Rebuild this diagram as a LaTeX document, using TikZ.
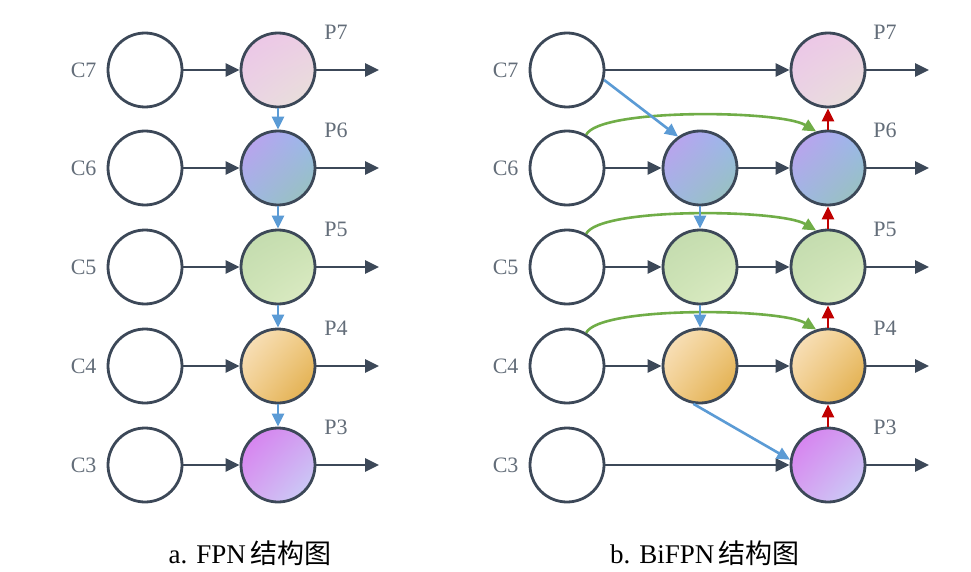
\documentclass[tikz,border=0pt]{standalone}
\usepackage{fontspec}
\setmainfont{Liberation Serif}
\newfontfamily\cjk{Noto Sans CJK SC}
\usetikzlibrary{arrows.meta,shadings}
\definecolor{dk}{HTML}{3C4858}
\definecolor{bl}{HTML}{5B9BD5}
\definecolor{gr}{HTML}{70AD47}
\definecolor{rd}{HTML}{C00000}
\begin{document}
\begin{tikzpicture}[x=1pt,y=-1pt,
  cc/.style={circle,draw=dk,line width=2.8pt,minimum size=74pt,inner sep=0pt},
  lab/.style={text=dk!80,font=\fontsize{22}{22}\selectfont},
  arr/.style={draw=dk,line width=2.8pt,-{Triangle[length=14pt,width=13pt]}},
  barr/.style={draw=bl,line width=2.6pt,-{Triangle[length=13pt,width=12pt]}},
  garr/.style={draw=gr,line width=2.6pt,-{Triangle[length=13pt,width=12pt]}},
  rarr/.style={draw=rd,line width=2.6pt,-{Triangle[length=13pt,width=12pt]}},
  s7/.style={upper left={rgb,255:red,236;green,196;blue,232},upper right={rgb,255:red,236;green,206;blue,228},lower left={rgb,255:red,234;green,212;blue,228},lower right={rgb,255:red,232;green,226;blue,216}},
  s6/.style={upper left={rgb,255:red,196;green,156;blue,240},upper right={rgb,255:red,150;green,186;blue,238},lower left={rgb,255:red,156;green,184;blue,230},lower right={rgb,255:red,152;green,196;blue,180}},
  s5/.style={upper left={rgb,255:red,194;green,218;blue,174},upper right={rgb,255:red,200;green,224;blue,176},lower left={rgb,255:red,206;green,228;blue,182},lower right={rgb,255:red,222;green,236;blue,198}},
  s4/.style={upper left={rgb,255:red,250;green,230;blue,200},upper right={rgb,255:red,240;green,202;blue,130},lower left={rgb,255:red,242;green,206;blue,142},lower right={rgb,255:red,222;green,168;blue,64}},
  s3/.style={upper left={rgb,255:red,216;green,120;blue,240},upper right={rgb,255:red,208;green,164;blue,240},lower left={rgb,255:red,214;green,164;blue,240},lower right={rgb,255:red,200;green,214;blue,248}},
]
\useasboundingbox (0,0) rectangle (971,572);
\fill[white] (0,0) rectangle (971,572);
% ---------- left panel
\foreach \n/\y in {7/70,6/168,5/267,4/366,3/465}{
  \node[cc] (aC\n) at (145,\y) {};
  \node[lab,anchor=east] (aCl\n) at (100,\y) {C\n};
  \node[cc,s\n] (aP\n) at (278,\y) {};
  \node[lab] (aPl\n) at (336,\y-38) {P\n};
  \coordinate (aO\n) at (379,\y);
  \draw[arr] (aC\n) -- (aP\n);
  \draw[arr] (aP\n) -- (aO\n);
}
\foreach \a/\b in {7/6,6/5,5/4,4/3}{\draw[barr] (aP\a) -- (aP\b);}
% ---------- right panel
\foreach \n/\y in {7/70,6/168,5/267,4/366,3/465}{
  \node[cc] (bC\n) at (567,\y) {};
  \node[lab,anchor=east] (bCl\n) at (522,\y) {C\n};
  \node[cc,s\n] (bP\n) at (828,\y) {};
  \node[lab] (bPl\n) at (885,\y-38) {P\n};
  \coordinate (bO\n) at (929,\y);
  \draw[arr] (bP\n) -- (bO\n);
}
\foreach \n/\y in {6/168,5/267,4/366}{
  \node[cc,s\n] (bM\n) at (700,\y) {};
  \draw[arr] (bC\n) -- (bM\n);
  \draw[arr] (bM\n) -- (bP\n);
  \draw[garr] (bC\n.60) .. controls (600,\y-60) and (780,\y-58) .. (bP\n.108);
}
\draw[arr] (bC7) -- (bP7);
\draw[arr] (bC3) -- (bP3);
\draw[barr] (bC7.-15) -- (bM6.125);
\draw[barr] (bM6) -- (bM5);
\draw[barr] (bM5) -- (bM4);
\draw[barr] (bM4.-100) -- (bP3.172);
\foreach \a/\b in {3/4,4/5,5/6,6/7}{\draw[rarr] (bP\a) -- (bP\b);}
% captions
\node[font=\fontsize{27}{27}\selectfont] (capa) at (250,553) {a. FPN\,{\cjk 结构图}};
\node[font=\fontsize{27}{27}\selectfont] (capb) at (705,553) {b. BiFPN\,{\cjk 结构图}};
\end{tikzpicture}
\end{document}
